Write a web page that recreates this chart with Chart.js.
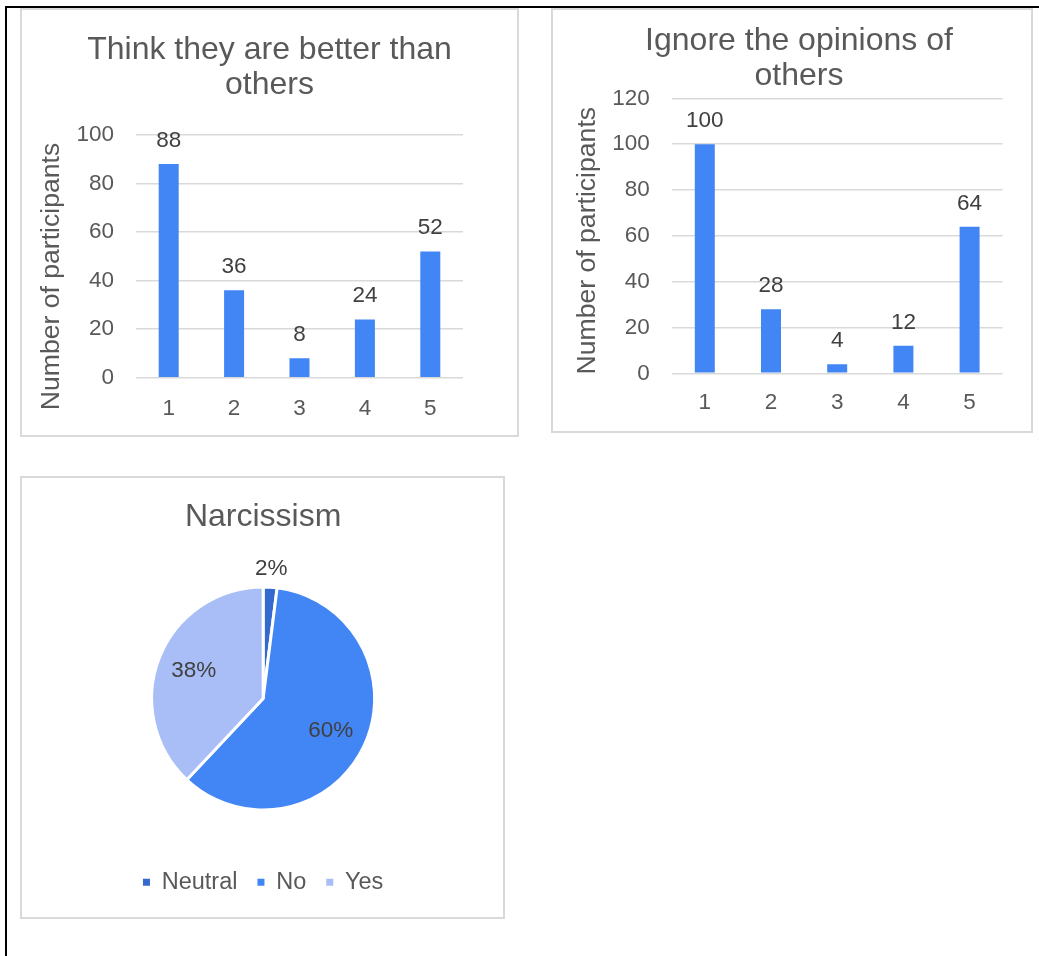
<!DOCTYPE html>
<html>
<head>
<meta charset="utf-8">
<script src="https://cdn.jsdelivr.net/npm/chart.js@4/dist/chart.umd.min.js"></script>
<style>
  html, body { margin: 0; padding: 0; background: #fff; }
  body { width: 1039px; height: 956px; position: relative; overflow: hidden; }
  .rule { position: absolute; background: #000; }
  .box { position: absolute; box-sizing: border-box; border: 2px solid #d9d9d9; background: #fff; }
  canvas { position: absolute; }
</style>
</head>
<body>
<div class="rule" style="left:5px; top:6px; width:1034px; height:2px;"></div>
<div class="rule" style="left:5px; top:6px; width:2px; height:950px;"></div>

<div class="box" style="left:20px; top:8px; width:499px; height:429px;"></div>
<div class="box" style="left:551px; top:8px; width:482px; height:425px;"></div>
<div class="box" style="left:20px; top:476px; width:485px; height:443px;"></div>

<canvas id="betterChart" width="495" height="425" style="left:22px; top:10px;"></canvas>
<canvas id="ignoreChart" width="478" height="421" style="left:553px; top:10px;"></canvas>
<canvas id="narcChart" width="481" height="439" style="left:22px; top:478px;"></canvas>

<script>
// ===== Data =====
const ratingScale = ["1", "2", "3", "4", "5"];
const betterThanOthers = [88, 36, 8, 24, 52];
const ignoreOpinions = [100, 28, 4, 12, 64];
const betterTicks = [0, 20, 40, 60, 80, 100];
const ignoreTicks = [0, 20, 40, 60, 80, 100, 120];

const narcLabels = ["Neutral", "No", "Yes"];
const narcShares = [2, 60, 38]; // percent
const narcColors = ["#346ACD", "#4285F4", "#A9BEF7"];

const FONT = '"Liberation Sans", Arial, sans-serif';
const GREY_TEXT = "#595959";
const DARK_TEXT = "#404040";
const BAR_BLUE = "#4285F4";

Chart.defaults.font.family = FONT;
Chart.defaults.color = GREY_TEXT;

// value printed above each bar
const barValueLabels = {
  id: "barValueLabels",
  afterDatasetsDraw(chart) {
    const ctx = chart.ctx;
    const values = chart.data.datasets[0].data;
    ctx.save();
    ctx.font = "22.5px " + FONT;
    ctx.fillStyle = DARK_TEXT;
    ctx.textAlign = "center";
    ctx.textBaseline = "alphabetic";
    chart.getDatasetMeta(0).data.forEach((bar, i) => {
      ctx.fillText(String(values[i]), bar.x, bar.y - 17);
    });
    ctx.restore();
  }
};

// rotated y-axis caption, placed a bit off the plot centre
const sideTitle = {
  id: "sideTitle",
  afterDraw(chart, args, opts) {
    const ctx = chart.ctx;
    ctx.save();
    ctx.translate(opts.x, opts.y);
    ctx.rotate(-Math.PI / 2);
    ctx.font = "26.6px " + FONT;
    ctx.fillStyle = GREY_TEXT;
    ctx.textAlign = "center";
    ctx.textBaseline = "middle";
    ctx.fillText(opts.text, 0, 0);
    ctx.restore();
  }
};

// percentage labels on the pie, small slices pushed outside
const pieLabels = {
  id: "pieLabels",
  afterDatasetsDraw(chart) {
    const ctx = chart.ctx;
    const values = chart.data.datasets[0].data;
    const total = values.reduce((a, b) => a + b, 0);
    ctx.save();
    ctx.font = "22.5px " + FONT;
    ctx.fillStyle = DARK_TEXT;
    ctx.textAlign = "center";
    ctx.textBaseline = "middle";
    chart.getDatasetMeta(0).data.forEach((arc, i) => {
      const share = values[i] / total;
      const mid = (arc.startAngle + arc.endAngle) / 2;
      const k = share < 0.05 ? 1.17 : 0.67;
      const x = arc.x + Math.cos(mid) * arc.outerRadius * k;
      const y = arc.y + Math.sin(mid) * arc.outerRadius * k;
      ctx.fillText(Math.round(share * 100) + "%", x, y);
    });
    ctx.restore();
  }
};

function barOptions(title, ticks, layout) {
  return {
    responsive: false,
    animation: false,
    events: [],
    layout: { padding: { left: layout.padLeft, right: 0, top: 0, bottom: 0 } },
    plugins: {
      legend: { display: false },
      tooltip: { enabled: false },
      title: {
        display: true,
        text: title,
        color: GREY_TEXT,
        font: { size: 32, weight: "normal", lineHeight: layout.titleLine / 32 },
        padding: { top: layout.titleTop, bottom: layout.titleBottom }
      },
      sideTitle: { text: "Number of participants", x: layout.capX, y: layout.capY }
    },
    scales: {
      x: {
        grid: { display: false },
        border: { display: false },
        ticks: { color: GREY_TEXT, font: { size: 22.5 }, padding: layout.xPad },
        afterFit: (scale) => { scale.height = layout.xHeight; }
      },
      y: {
        min: ticks[0],
        max: ticks[ticks.length - 1],
        grid: { color: "#d9d9d9", lineWidth: 1.5, drawTicks: false },
        border: { display: false },
        ticks: { stepSize: ticks[1] - ticks[0], color: GREY_TEXT, font: { size: 22.5 }, padding: 22 },
        afterFit: (scale) => { scale.width = layout.yWidth; }
      },
      // empty right margin so the title stays centred over the box
      margin: {
        type: "linear",
        position: "right",
        grid: { display: false },
        border: { display: false },
        ticks: { display: false },
        afterFit: (scale) => { scale.width = layout.padRight; }
      }
    }
  };
}

// ===== Think they are better than others =====
new Chart(document.getElementById("betterChart").getContext("2d"), {
  type: "bar",
  data: {
    labels: ratingScale,
    datasets: [{
      data: betterThanOthers,
      backgroundColor: BAR_BLUE,
      barPercentage: 0.306,
      categoryPercentage: 1
    }]
  },
  options: barOptions(["Think they are better than", "others"], betterTicks, {
    padLeft: 0, padRight: 54, yWidth: 114, xHeight: 57.3, xPad: 10,
    titleTop: 22.3, titleBottom: 32.7, titleLine: 35,
    capX: 30, capY: 266.5
  }),
  plugins: [barValueLabels, sideTitle]
});

// ===== Ignore the opinions of others =====
new Chart(document.getElementById("ignoreChart").getContext("2d"), {
  type: "bar",
  data: {
    labels: ratingScale,
    datasets: [{
      data: ignoreOpinions,
      backgroundColor: BAR_BLUE,
      barPercentage: 0.302,
      categoryPercentage: 1
    }]
  },
  options: barOptions(["Ignore the opinions of", "others"], ignoreTicks, {
    padLeft: 14, padRight: 28.3, yWidth: 104.7, xHeight: 57.7, xPad: 8,
    titleTop: 14.3, titleBottom: 5, titleLine: 34.5,
    capX: 35, capY: 230.7
  }),
  plugins: [barValueLabels, sideTitle]
});

// ===== Narcissism pie =====
new Chart(document.getElementById("narcChart").getContext("2d"), {
  type: "pie",
  data: {
    labels: narcLabels,
    datasets: [{
      data: narcShares,
      backgroundColor: narcColors,
      borderColor: "#fff",
      borderWidth: 3,
      radius: 111.5
    }]
  },
  options: {
    responsive: false,
    animation: false,
    events: [],
    layout: { padding: { left: 1.3, right: 0, top: 0, bottom: 13 } },
    plugins: {
      tooltip: { enabled: false },
      title: {
        display: true,
        text: "Narcissism",
        color: GREY_TEXT,
        font: { size: 32, weight: "normal" },
        padding: { top: 19.6, bottom: 10.5 }
      },
      legend: {
        position: "bottom",
        labels: {
          boxWidth: 7,
          boxHeight: 7,
          padding: 20,
          color: GREY_TEXT,
          font: { size: 23.5 },
          generateLabels: (chart) =>
            Chart.overrides.pie.plugins.legend.labels.generateLabels(chart).map((item) => ({
              ...item,
              lineWidth: 0,
              strokeStyle: "transparent"
            }))
        }
      }
    }
  },
  plugins: [pieLabels]
});
</script>
</body>
</html>
